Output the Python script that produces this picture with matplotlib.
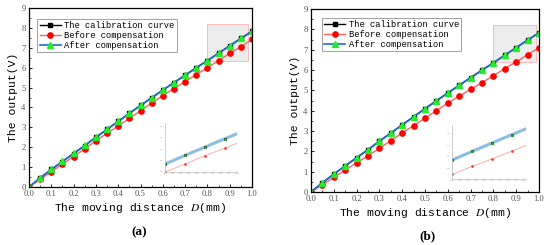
import matplotlib
matplotlib.use("Agg")
import matplotlib.pyplot as plt
from matplotlib.patches import Rectangle
from matplotlib.ticker import MultipleLocator, FormatStrFormatter

plt.rcParams["mathtext.fontset"] = "stix"

# moving distance D (mm)
distance = [0.0, 0.05, 0.1, 0.15, 0.2, 0.25, 0.3, 0.35, 0.4, 0.45, 0.5,
            0.55, 0.6, 0.65, 0.7, 0.75, 0.8, 0.85, 0.9, 0.95, 1.0]

# calibration curve (same in both panels)
calib = [0.0, 0.45, 0.88, 1.28, 1.68, 2.08, 2.5, 2.9, 3.3, 3.7, 4.1,
         4.48, 4.87, 5.25, 5.62, 6.0, 6.35, 6.73, 7.1, 7.47, 7.83]

# before compensation
before_a = [0.0, 0.38, 0.77, 1.15, 1.53, 1.92, 2.32, 2.7, 3.07, 3.45, 3.83,
            4.22, 4.6, 4.95, 5.3, 5.65, 6.0, 6.35, 6.72, 7.05, 7.42]
before_b = [0.0, 0.35, 0.72, 1.08, 1.43, 1.78, 2.15, 2.53, 2.9, 3.27, 3.63,
            4.0, 4.37, 4.72, 5.05, 5.38, 5.72, 6.07, 6.4, 6.75, 7.1]

# after compensation
after = [0.0, 0.46, 0.88, 1.29, 1.69, 2.09, 2.5, 2.9, 3.3, 3.7, 4.1,
         4.49, 4.87, 5.25, 5.62, 5.99, 6.35, 6.73, 7.1, 7.47, 7.83]

labels = ["The calibration curve", "Before compensation", "After compensation"]

MONO = "Liberation Mono"
TICK_C = "#555555"

fig = plt.figure(figsize=(5.5, 2.45), dpi=100)


def draw_panel(rect, before, inset_rect, zoom_box, inset_ylim, caption, cap_xy, leg_anchor):
    ax = fig.add_axes(rect)
    ax.plot(distance, calib, "-s", color="black", lw=1.0, ms=3.2, label=labels[0])
    ax.plot(distance, before, "-o", color="#ff6060", lw=1.0, ms=3.8,
            mfc="red", mec="red", label=labels[1])
    ax.plot(distance, after, "-^", color="#1a6fd0", lw=1.2, ms=4.0,
            mfc="#22ee22", mec="#22ee22", label=labels[2])

    ax.xaxis.set_major_locator(MultipleLocator(0.1))
    ax.xaxis.set_minor_locator(MultipleLocator(0.05))
    ax.xaxis.set_major_formatter(FormatStrFormatter("%.1f"))
    ax.yaxis.set_major_locator(MultipleLocator(1))
    ax.yaxis.set_minor_locator(MultipleLocator(0.5))
    ax.set_xlim(0, 1.0)
    ax.set_ylim(0, 9)
    ax.tick_params(which="both", direction="in", labelsize=6.2, colors="black",
                   labelcolor=TICK_C, pad=2.5, labelfontfamily="Liberation Serif")
    ax.tick_params(which="major", length=2.5, width=0.6)
    ax.tick_params(which="minor", length=1.5, width=0.5)
    for s in ax.spines.values():
        s.set_linewidth(0.9)

    ax.set_xlabel(r"The moving distance $\mathit{D}$(mm)", fontsize=8.2,
                  family=MONO, labelpad=1.5)
    ax.set_ylabel("The output(V)", fontsize=8.2, family=MONO, labelpad=2)

    x0, x1, y0, y1 = zoom_box
    ax.add_patch(Rectangle((x0, y0), x1 - x0, y1 - y0, facecolor="#ececec",
                           edgecolor="#ffb0b0", lw=0.6, zorder=0))

    leg = ax.legend(loc="upper left", bbox_to_anchor=leg_anchor,
                    prop={"family": MONO, "size": 6.3}, frameon=True,
                    fancybox=False, edgecolor="#888888", borderpad=0.25,
                    handlelength=2.4, labelspacing=0.1, handletextpad=0.4,
                    borderaxespad=0.2)
    leg.get_frame().set_linewidth(0.7)

    # inset
    ins = fig.add_axes(inset_rect)
    ins.plot(distance, after, "-", color="#8cbde3", lw=2.2)
    ins.plot(distance, calib, "s", color="#222222", ms=1.1)
    ins.plot(distance, after, "^", color="#22cc22", ms=1.0)
    ins.plot(distance, before, "-o", color="#ffa0a0", lw=0.6, ms=1.0,
             mfc="#ff4040", mec="#ff4040")
    ins.set_xlim(x0, x1)
    ins.set_ylim(*inset_ylim)
    for side in ("top", "right"):
        ins.spines[side].set_visible(False)
    for side in ("left", "bottom"):
        ins.spines[side].set_color("#bbbbbb")
        ins.spines[side].set_linewidth(0.5)
    ins.xaxis.set_major_locator(MultipleLocator(0.02))
    ins.yaxis.set_major_locator(MultipleLocator(0.5))
    ins.tick_params(which="both", direction="in", length=1, width=0.3,
                    colors="#bbbbbb", labelsize=1.5, labelcolor="#999999", pad=1)
    ins.patch.set_alpha(0)

    fig.text(cap_xy[0], cap_xy[1], caption, fontsize=9.5, fontweight="bold",
             family="Liberation Serif", ha="center", va="center")


draw_panel([29 / 550, 1 - 187 / 245, 223 / 550, 179 / 245], before_a,
           [165 / 550, 1 - 172 / 245, 72 / 550, 49 / 245],
           (0.8, 0.98, 6.35, 8.2), (6.0, 8.16), "(a)",
           (139 / 550, 1 - 232 / 245), (0.03, 0.95))

draw_panel([311 / 550, 1 - 192 / 245, 228 / 550, 183 / 245], before_b,
           [452 / 550, 1 - 179 / 245, 74 / 550, 54 / 245],
           (0.8, 0.985, 6.4, 8.2), (5.52, 7.89), "(b)",
           (428 / 550, 1 - 236 / 245), (0.04, 0.96))

fig.savefig("out.png", dpi=100)
